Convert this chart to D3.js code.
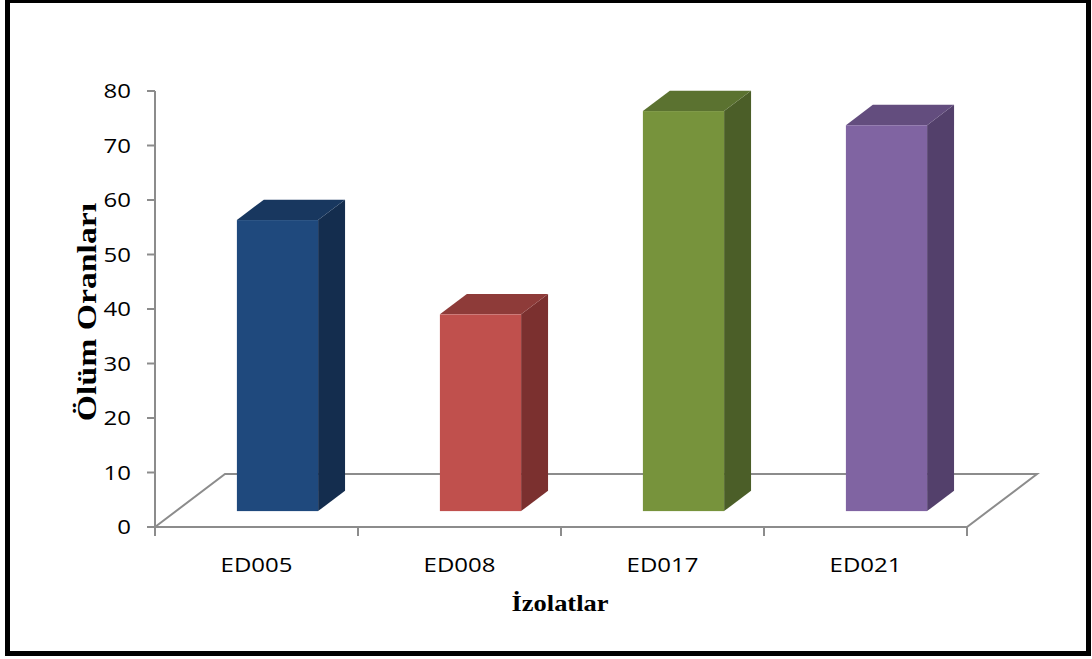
<!DOCTYPE html>
<html><head><meta charset="utf-8">
<script src="https://cdn.jsdelivr.net/npm/d3@7"></script>
<style>html,body{margin:0;padding:0;background:#fff;}svg{display:block;}</style>
</head><body>
<svg id="c" width="1092" height="659"></svg>
<script>
const categories = ["ED005", "ED008", "ED017", "ED021"];
const values = [53.4, 36.1, 73.4, 70.8];
const yTicks = [0, 10, 20, 30, 40, 50, 60, 70, 80];
const frontColors = ["#1F497D", "#C0504D", "#77933C", "#8064A2"];
const topColors = ["#18375F", "#8E3B39", "#5B7230", "#634D7E"];
const sideColors = ["#142D4E", "#7B302F", "#4B5E28", "#53406B"];
const yTitle = "Ölüm Oranları";
const xTitle = "İzolatlar";

const svg = d3.select("#c");
const X0 = 155, X1 = 967, Y0 = 527, Y1 = 91;
const DX = 70, DY = -53;         // floor depth
const F0 = 0.3, FD = 0.385;       // bar front depth fraction, bar depth fraction
const gray = "#8C8C8C";

const x = d3.scaleBand().domain(categories).range([X0, X1]).paddingInner(0.6).paddingOuter(0.3);
const xs = d3.scalePoint().domain(d3.range(categories.length + 1)).range([X0, X1]);
const y = d3.scaleLinear().domain([0, 80]).range([Y0, Y1]);

// frame
svg.append("rect").attr("x", 7.5).attr("y", 0.5).attr("width", 1081).attr("height", 653)
  .attr("fill", "none").attr("stroke", "#000").attr("stroke-width", 5);

// floor
const floor = svg.append("g").attr("stroke", gray).attr("stroke-width", 2).attr("fill", "none");
floor.append("path").attr("d", `M${X0},${Y0}L${X0+DX},${Y0+DY}L${X1+DX},${Y0+DY}L${X1},${Y0}Z`);

// bars
const fx = DX * F0, fy = DY * F0, ddx = DX * FD, ddy = DY * FD;
const bars = svg.append("g").selectAll("g").data(categories).join("g");
bars.each(function(c, i) {
  const g = d3.select(this);
  const xa = x(c) + fx, xb = x(c) + x.bandwidth() + fx;
  const yb = y(0) + fy, yt = y(values[i]) + fy;
  g.append("path").attr("fill", sideColors[i])
    .attr("d", `M${xb},${yt}L${xb+ddx},${yt+ddy}L${xb+ddx},${yb+ddy}L${xb},${yb}Z`);
  g.append("path").attr("fill", topColors[i])
    .attr("d", `M${xa},${yt}L${xb},${yt}L${xb+ddx},${yt+ddy}L${xa+ddx},${yt+ddy}Z`);
  g.append("rect").attr("fill", frontColors[i])
    .attr("x", xa).attr("y", yt).attr("width", xb - xa).attr("height", yb - yt);
});

// y axis
const ya = svg.append("g");
ya.append("line").attr("x1", X0).attr("x2", X0).attr("y1", Y1).attr("y2", Y0)
  .attr("stroke", gray).attr("stroke-width", 2);
ya.selectAll("line.t").data(yTicks).join("line").attr("class", "t")
  .attr("x1", X0 - 8).attr("x2", X0).attr("y1", d => y(d)).attr("y2", d => y(d))
  .attr("stroke", gray).attr("stroke-width", 2);
ya.selectAll("text").data(yTicks).join("text")
  .attr("transform", d => `translate(${131},${y(d) + 7}) scale(1.2,1)`)
  .attr("text-anchor", "end").attr("font-family", "Open Sans").attr("font-size", 20)
  .attr("fill", "#000").text(d => d);

// x axis ticks
svg.append("g").selectAll("line").data(d3.range(categories.length + 1)).join("line")
  .attr("x1", d => xs(d)).attr("x2", d => xs(d)).attr("y1", Y0).attr("y2", Y0 + 9)
  .attr("stroke", gray).attr("stroke-width", 2);
svg.append("g").selectAll("text").data(categories).join("text")
  .attr("transform", d => `translate(${x(d) + x.bandwidth() / 2},572) scale(1.2,1)`)
  .attr("text-anchor", "middle").attr("font-family", "Open Sans").attr("font-size", 20)
  .attr("fill", "#000").text(d => d);

// titles
svg.append("text").attr("transform", "translate(560,611) scale(1.15,1)")
  .attr("text-anchor", "middle").attr("font-family", "Liberation Serif").attr("font-weight", "bold")
  .attr("font-size", 23).text(xTitle);
svg.append("text").attr("transform", "translate(96,312) rotate(-90) scale(1.25,1)")
  .attr("text-anchor", "middle").attr("font-family", "Liberation Serif").attr("font-weight", "bold")
  .attr("font-size", 27).text(yTitle);
</script>
</body></html>
